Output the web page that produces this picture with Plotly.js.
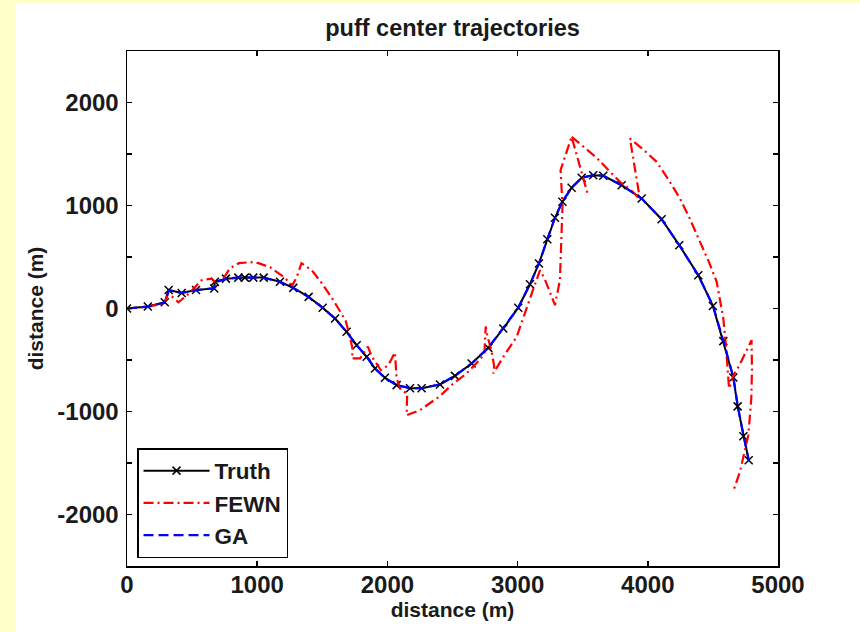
<!DOCTYPE html>
<html><head><meta charset="utf-8">
<script src="https://cdn.plot.ly/plotly-3.0.1.min.js"></script>
<style>
html,body{margin:0;padding:0;background:#FFFFC8;width:860px;height:632px;overflow:hidden}
#chart{position:absolute;left:16px;top:3px;width:844px;height:629px;background:#fff}
</style></head><body><div id="chart"></div><script>
// Truth trajectory
const truthX = [0,160,290,320,420,530,670,675,760,855,905,970,1050,1175,1277,1395,1503,1598,1687,1764,1841,1905,1981,2071,2174,2263,2404,2519,2647,2775,2890,3005,3095,3164,3228,3287,3344,3415,3492,3581,3658,3799,3953,4106,4242,4388,4500,4580,4657,4690,4734,4775];
const truthY = [0,20,60,180,150,180,195,260,290,300,300,300,300,260,200,113,7,-97,-226,-356,-469,-583,-673,-744,-775,-775,-738,-654,-534,-382,-194,7,235,437,673,881,1036,1172,1269,1294,1288,1197,1068,867,614,323,25,-317,-670,-950,-1240,-1473];
// GA estimate
const gaX = [0,160,290,322,420,530,668,677,760,855,905,970,1050,1175,1280,1395,1505,1600,1688,1765,1842,1906,1982,2072,2175,2262,2405,2520,2648,2776,2891,3006,3096,3165,3229,3288,3345,3416,3493,3582,3659,3800,3954,4107,4243,4389,4502,4582,4658,4692,4736,4776];
const gaY = [0,18,58,175,152,178,197,255,288,302,301,299,298,258,198,110,5,-100,-230,-360,-470,-585,-675,-746,-772,-773,-736,-652,-532,-380,-190,10,238,440,676,884,1040,1175,1270,1296,1289,1195,1066,865,612,320,22,-320,-672,-952,-1243,-1475];
// FEWN estimate (null = break)
const fewnX = [0,150,290,315,360,395,480,573,650,680,740,790,860,950,1010,1100,1200,1270,1305,1340,1420,1500,1590,1680,1715,1735,1726,1790,1850,1880,1950,2007,2058,2071,2104,2152,2148,2250,2404,2506,2600,2700,2745,2755,2770,2800,2820,2813,2900,2993,3082,3172,3210,3287,3325,3345,3330,3415,3543,null,3415,3500,3607,3700,3786,3870,3940,3863,3950,4068,4160,4247,4320,4401,4470,4529,4580,4600,4610,4624,4657,4700,4750,4797,4800,4795,4772,4708,4660];
const fewnY = [0,15,50,150,100,60,150,275,290,250,290,390,440,450,440,400,310,225,310,440,370,240,70,-120,-290,-410,-485,-485,-370,-466,-600,-550,-427,-680,-793,-825,-1036,-987,-850,-728,-640,-510,-440,-175,-280,-410,-560,-631,-450,-275,49,372,282,32,275,1000,1343,1667,1091,null,1667,1580,1464,1340,1230,1150,1060,1650,1560,1424,1250,1068,880,647,450,259,-97,-360,-550,-777,-650,-560,-430,-307,-600,-874,-1230,-1585,-1760];
// Tick labels
const xTickVals = [0,1000,2000,3000,4000,5000];
const xTickText = ['0','1000','2000','3000','4000','5000'];
const yTickVals = [-2000,-1000,0,1000,2000];
const yTickText = ['-2000','-1000','0','1000','2000'];

const FONT = 'Liberation Sans, Arial, Helvetica, sans-serif';

const traces = [
  {x: truthX, y: truthY, name: 'Truth', type: 'scatter', mode: 'lines+markers',
   line: {color: '#000000', width: 2},
   marker: {symbol: 'x-thin', size: 8, line: {color: '#000000', width: 1.5}}},
  {x: fewnX, y: fewnY, name: 'FEWN', type: 'scatter', mode: 'lines', connectgaps: false,
   line: {color: '#FF0000', width: 2.2, dash: '10px,4px,2px,4px'}},
  {x: gaX, y: gaY, name: 'GA', type: 'scatter', mode: 'lines',
   line: {color: '#0000FF', width: 2.2, dash: '10px,5px'}}
];

const axisCommon = {
  showline: true, linecolor: '#000000', linewidth: 1.5, mirror: 'ticks',
  ticks: 'inside', ticklen: 5, tickwidth: 1.5, tickcolor: '#000000',
  showgrid: false, zeroline: false, tickmode: 'array',
  tickfont: {family: FONT, size: 24, color: '#1a1a1a', weight: 'bold'}
};

const layout = {
  width: 844, height: 629,
  paper_bgcolor: '#FFFFFF', plot_bgcolor: '#FFFFFF',
  margin: {l: 111, r: 82, t: 48, b: 66},
  showlegend: true,
  title: {text: 'puff center trajectories', x: 0.5, xref: 'paper', y: 0.9603, yref: 'container', yanchor: 'middle',
          font: {family: FONT, size: 23.5, color: '#1a1a1a', weight: 'bold'}},
  xaxis: Object.assign({}, axisCommon, {
    range: [0, 5000], tickvals: xTickVals, ticktext: xTickText, ticklabelstandoff: -3,
    title: {text: 'distance (m)', standoff: 0, font: {family: FONT, size: 21, color: '#1a1a1a', weight: 'bold'}}
  }),
  yaxis: Object.assign({}, axisCommon, {
    range: [-2500, 2500], tickvals: yTickVals, ticktext: yTickText, ticklabelstandoff: 2,
    minor: {dtick: 500, tick0: 0, ticks: 'inside', ticklen: 5, tickwidth: 1.5, tickcolor: '#000000', showgrid: false},
    title: {text: 'distance (m)', standoff: 8, font: {family: FONT, size: 21, color: '#1a1a1a', weight: 'bold'}}
  }),
  legend: {x: 0.0154, y: 0.0155, xanchor: 'left', yanchor: 'bottom',
           bgcolor: '#FFFFFF', bordercolor: '#000000', borderwidth: 1.5,
           itemwidth: 66, tracegroupgap: 0,
           font: {family: FONT, size: 22.5, color: '#1a1a1a', weight: 'bold'}}
};

Plotly.newPlot('chart', traces, layout, {displayModeBar: false, staticPlot: true});
</script></body></html>
